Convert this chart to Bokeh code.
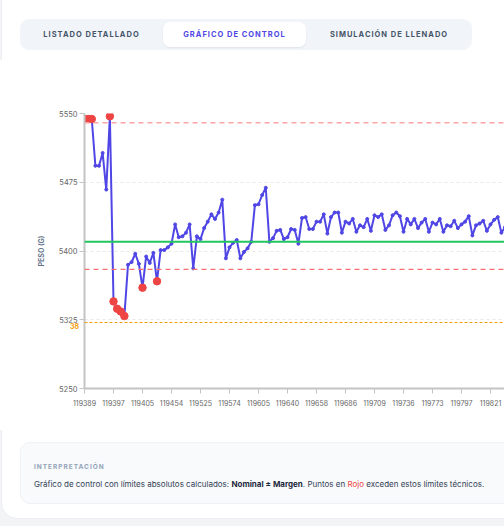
import numpy as np
from bokeh.plotting import figure
from bokeh.layouts import column
from bokeh.models import Range1d, FixedTicker, Span, Label, Div
from bokeh.embed import file_html
from bokeh.resources import INLINE

# etiquetas del eje x (un lote cada 8 puntos)
etiquetas_x = ["119389", "119397", "119405", "119454", "119525", "119574", "119605",
               "119640", "119658", "119686", "119709", "119736", "119773", "119797", "119821"]

# pesos leidos (g)
pesos = [5544, 5544, 5544, 5493, 5493, 5507, 5467, 5547, 5345, 5337,
         5334, 5329, 5385, 5388, 5397, 5386, 5360, 5394, 5387, 5398,
         5367, 5401, 5401, 5404, 5408, 5429, 5415, 5416, 5420, 5429,
         5381, 5416, 5413, 5425, 5432, 5440, 5435, 5442, 5456, 5392,
         5404, 5409, 5412, 5392, 5399, 5403, 5410, 5450, 5451, 5461,
         5469, 5410, 5414, 5422, 5423, 5413, 5415, 5424, 5423, 5408,
         5436, 5437, 5424, 5424, 5432, 5432, 5440, 5419, 5437, 5442,
         5442, 5420, 5432, 5430, 5435, 5421, 5428, 5426, 5435, 5422,
         5439, 5437, 5440, 5423, 5428, 5439, 5442, 5438, 5421, 5435,
         5429, 5435, 5425, 5431, 5435, 5421, 5431, 5429, 5435, 5421,
         5428, 5427, 5433, 5425, 5429, 5432, 5438, 5417, 5428, 5430,
         5433, 5422, 5429, 5434, 5437, 5420, 5426]

nominal = 5410
lim_sup = 5540
lim_inf = 5380
ref_naranja = 5322
y_ticks = [5250, 5325, 5400, 5475, 5550]

idx = list(range(len(pesos)))
rojo_x = [i for i in idx if pesos[i] > lim_sup or pesos[i] < lim_inf]
rojo_y = [pesos[i] for i in rojo_x]

FUENTE = "Inter"

tabs = Div(width=504, height=60, margin=0, text="""
<div style="position:relative;width:504px;height:60px;font-family:Inter,sans-serif;overflow:hidden;background:#f3f4f6;">
 <div style="position:absolute;left:1px;top:-20px;width:540px;height:100px;background:#ffffff;border:1px solid #eceef2;border-radius:16px;"></div>
 <div style="position:absolute;left:20px;top:19px;width:452px;height:31px;background:#f1f5f9;border-radius:9px;"></div>
 <div style="position:absolute;left:163px;top:22px;width:143px;height:25px;background:#ffffff;border-radius:7px;box-shadow:0 1px 2px rgba(0,0,0,0.07);"></div>
 <div style="position:absolute;left:20px;top:19px;width:143px;height:31px;line-height:31px;text-align:center;font-size:7.5px;font-weight:700;letter-spacing:1px;color:#475569;">LISTADO DETALLADO</div>
 <div style="position:absolute;left:163px;top:19px;width:143px;height:31px;line-height:31px;text-align:center;font-size:7.5px;font-weight:700;letter-spacing:1px;color:#4f46e5;">GRÁFICO DE CONTROL</div>
 <div style="position:absolute;left:306px;top:19px;width:166px;height:31px;line-height:31px;text-align:center;font-size:7.5px;font-weight:700;letter-spacing:1px;color:#475569;">SIMULACIÓN DE LLENADO</div>
</div>
""")

p = figure(width=504, height=370, x_range=Range1d(0, 115.86), y_range=Range1d(5250, 5550),
           output_backend="svg", toolbar_location=None,
           min_border_left=84, min_border_right=0, min_border_top=53, min_border_bottom=42)
p.outline_line_color = None
p.background_fill_color = "white"
p.border_fill_color = "white"

# ejes
p.xaxis.ticker = FixedTicker(ticks=[8 * k for k in range(len(etiquetas_x))])
p.xaxis.major_label_overrides = {8 * k: lab for k, lab in enumerate(etiquetas_x)}
p.yaxis.ticker = FixedTicker(ticks=y_ticks)
for ax in (p.xaxis[0], p.yaxis[0]):
    ax.axis_line_color = "#c4c4c4"
    ax.axis_line_width = 2
    ax.major_tick_line_color = "#c4c4c4"
    ax.major_tick_out = 5
    ax.major_tick_in = 0
    ax.minor_tick_line_color = None
    ax.major_label_text_font = FUENTE
    ax.major_label_text_color = "#666666"
p.xaxis.major_label_text_font_size = "7px"
p.xaxis.major_label_standoff = 6
p.yaxis.major_label_text_font_size = "7.5px"
p.yaxis.major_label_standoff = 2
p.yaxis.axis_label = "PESO (G)"
p.yaxis.axis_label_text_font = FUENTE
p.yaxis.axis_label_text_font_size = "7px"
p.yaxis.axis_label_text_font_style = "bold"
p.yaxis.axis_label_text_color = "#64748b"
p.yaxis.axis_label_standoff = 10

p.xgrid.grid_line_color = None
p.ygrid.grid_line_color = "#e8e8e8"
p.ygrid.grid_line_dash = "3 3"

# limites
p.add_layout(Span(location=lim_sup, dimension="width", line_color="#fca5a5", line_width=1.5, line_dash="5 4"))
p.add_layout(Span(location=lim_inf, dimension="width", line_color="#f87171", line_width=1.2, line_dash="5 4"))
p.add_layout(Span(location=nominal, dimension="width", line_color="#22c55e", line_width=2))
p.add_layout(Span(location=ref_naranja, dimension="width", line_color="#f59e0b", line_width=1, line_dash="3 2"))
# etiqueta fuera del marco: en el panel izquierdo para que no se recorte
p.add_layout(Label(x=74, x_units="canvas", y=ref_naranja, text="38", text_align="center", text_baseline="top",
                   text_font=FUENTE, text_font_size="7px", text_font_style="bold", text_color="#f59e0b"),
             "left")

p.line(idx, pesos, line_color="#4f46e5", line_width=2)
p.scatter(idx, pesos, size=3, fill_color="#4f46e5", line_color="#4f46e5")
p.scatter(rojo_x, rojo_y, size=7.5, fill_color="#ef4444", line_color="#ef4444")

interp = Div(width=504, height=96, margin=0, text="""
<div style="position:relative;width:504px;height:96px;font-family:Inter,sans-serif;overflow:hidden;background:#f3f4f6;">
 <div style="position:absolute;left:1px;top:-40px;width:540px;height:129px;background:#ffffff;border:1px solid #eceef2;border-radius:16px;"></div>
 <div style="position:absolute;left:20px;top:12px;width:500px;height:62px;background:#f8fafc;border:1px solid #eef1f5;border-radius:10px;">
  <div style="position:absolute;left:13px;top:20px;font-size:6.5px;font-weight:700;letter-spacing:1px;color:#94a3b8;">INTERPRETACIÓN</div>
  <div style="position:absolute;left:13px;top:36px;font-size:8px;color:#334155;white-space:nowrap;">Gráfico de control con límites absolutos calculados: <b style="color:#1e293b;">Nominal ± Margen</b>. Puntos en <span style="color:#ef4444;">Rojo</span> exceden estos límites técnicos.</div>
 </div>
</div>
""")

layout = column(tabs, p, interp)
open("out.html", "w").write(file_html(layout, INLINE))
